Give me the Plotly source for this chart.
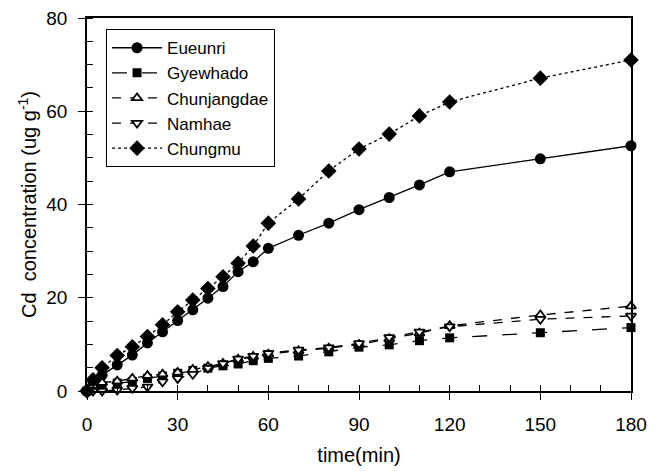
import plotly.graph_objects as go

time = [0, 2, 5, 10, 15, 20, 25, 30, 35, 40, 45, 50, 55, 60, 70, 80, 90, 100, 110, 120, 150, 180]

eueunri = [0, 2.0, 3.4, 5.6, 7.7, 10.3, 12.7, 15.1, 17.4, 19.9, 22.4, 25.6, 27.7, 30.6, 33.4, 36.0, 38.9, 41.5, 44.2, 47.0, 49.8, 52.6]
gyewhado = [0, 0.8, 1.2, 1.7, 2.0, 2.7, 3.2, 3.8, 4.4, 4.9, 5.4, 5.8, 6.5, 7.0, 7.5, 8.4, 9.4, 9.9, 10.8, 11.4, 12.5, 13.6]
chunjangdae = [0, 1.2, 1.8, 2.1, 2.7, 3.3, 3.6, 4.0, 4.6, 5.2, 5.9, 6.8, 7.4, 7.9, 8.6, 9.2, 10.0, 11.2, 12.4, 14.0, 16.3, 18.2]
namhae = [0, 0.0, 0.0, 0.2, 0.6, 0.9, 2.0, 2.7, 3.6, 4.9, 5.9, 6.9, 7.5, 8.1, 8.8, 9.3, 10.2, 11.5, 12.7, 13.8, 15.4, 16.1]
chungmu = [0, 2.4, 5.0, 7.6, 9.5, 11.7, 14.2, 17.0, 19.5, 22.0, 24.5, 27.4, 31.1, 36.0, 41.2, 47.2, 51.9, 55.1, 59.0, 62.0, 67.1, 71.0]

series = [
    ("Eueunri", eueunri, "solid", dict(symbol="circle", size=11, color="black")),
    ("Gyewhado", gyewhado, "longdash", dict(symbol="square", size=9, color="black")),
    ("Chunjangdae", chunjangdae, "dash", dict(symbol="triangle-up", size=9, color="white", line=dict(color="black", width=1.8))),
    ("Namhae", namhae, "dash", dict(symbol="triangle-down", size=9, color="white", line=dict(color="black", width=1.8))),
    ("Chungmu", chungmu, "dot", dict(symbol="diamond", size=12, color="black")),
]

fig = go.Figure()
for name, vals, dash, marker in series:
    fig.add_trace(go.Scatter(
        x=time, y=vals, name=name, mode="lines+markers",
        line=dict(color="black", width=1.3, dash=dash),
        marker=marker, cliponaxis=False,
    ))

font_family = "Liberation Sans, Arial, sans-serif"
fig.update_layout(
    width=657, height=463,
    margin=dict(l=79, r=34, t=10, b=80),
    paper_bgcolor="white", plot_bgcolor="white",
    font=dict(family=font_family, color="black", size=19),
    showlegend=True,
    legend=dict(
        x=0.035, y=0.97, xanchor="left", yanchor="top",
        bordercolor="black", borderwidth=1, bgcolor="white",
        font=dict(size=17, family=font_family), tracegroupgap=0,
        itemwidth=50,
    ),
)
fig.update_xaxes(
    range=[0, 180], tickvals=[0, 30, 60, 90, 120, 150, 180],
    ticks="outside", ticklen=7, tickcolor="black", tickwidth=1.2,
    minor=dict(dtick=10, tick0=0, ticks="inside", ticklen=6, tickcolor="black", tickwidth=1),
    showline=True, linecolor="black", linewidth=1.5, mirror=True,
    showgrid=False, zeroline=False,
    title=dict(text="time(min)", font=dict(size=20), standoff=14),
    tickfont=dict(size=19), ticklabelstandoff=8, ticklabeloverflow="allow",
    automargin=False,
)
fig.update_yaxes(
    range=[0, 80], tickvals=[0, 20, 40, 60, 80],
    ticks="outside", ticklen=7, tickcolor="black", tickwidth=1.2,
    minor=dict(dtick=5, tick0=0, ticks="inside", ticklen=6, tickcolor="black", tickwidth=1),
    showline=True, linecolor="black", linewidth=1.5, mirror=True,
    showgrid=False, zeroline=False,
    title=dict(text="Cd  concentration (ug g<sup>-1</sup>)", font=dict(size=20), standoff=4),
    tickfont=dict(size=19), ticklabelstandoff=7, ticklabeloverflow="allow",
    automargin=False,
)

fig.write_html("out.html")
